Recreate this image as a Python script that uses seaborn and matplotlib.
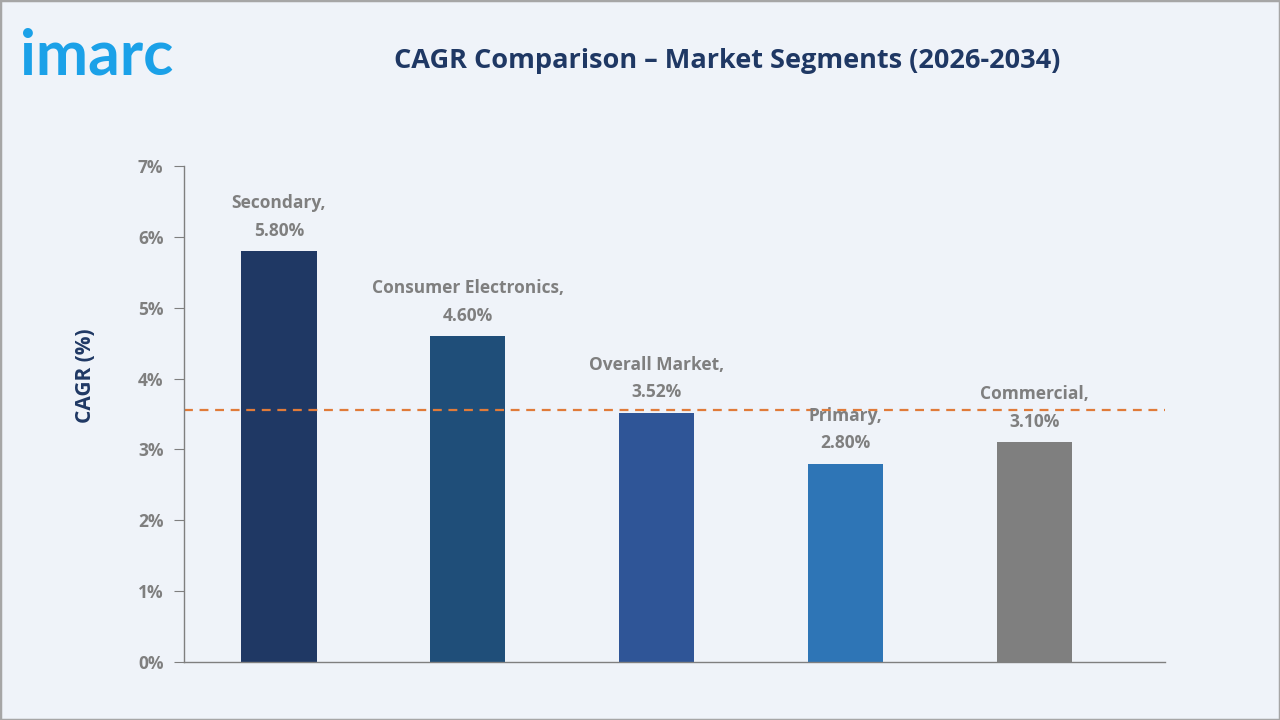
import matplotlib
matplotlib.use("Agg")
import matplotlib.pyplot as plt
import seaborn as sns
import pandas as pd
from matplotlib.ticker import FuncFormatter
from matplotlib.patches import Rectangle

# chart data
segments = ["Secondary", "Consumer Electronics", "Overall Market", "Primary", "Commercial"]
cagr = [5.80, 4.60, 3.52, 2.80, 3.10]
bar_colors = ["#1F3864", "#1F4E79", "#2F5597", "#2E75B6", "#7F7F7F"]
overall_line = 3.55
yticks = [0, 1, 2, 3, 4, 5, 6, 7]

sns.set_style("white")
plt.rcParams["font.family"] = ["Open Sans", "DejaVu Sans"]

bg = "#EFF3F9"
gray = "#7F7F7F"
navy = "#1F3864"

df = pd.DataFrame({"segment": segments, "cagr": cagr})

fig = plt.figure(figsize=(12.8, 7.2), dpi=100, facecolor=bg)
ax = fig.add_axes([0.144, 0.0806, 0.766, 0.6889])
ax.set_facecolor(bg)

sns.barplot(data=df, x="segment", y="cagr", hue="segment", palette=bar_colors,
            width=0.4, legend=False, ax=ax, saturation=1, linewidth=0)

ax.axhline(overall_line, color="#E07B39", linestyle=(0, (4, 3)), linewidth=1.6, zorder=1)

for i, (s, v) in enumerate(zip(segments, cagr)):
    ax.annotate(f"{s},\n{v:.2f}%", xy=(i, v), xytext=(0, 8), textcoords="offset points",
                ha="center", va="bottom", fontsize=12.5, color=gray, fontweight="bold",
                linespacing=1.7)

ax.set_ylim(0, 7)
ax.set_xlim(-0.5, 4.69)
ax.set_yticks(yticks)
ax.yaxis.set_major_formatter(FuncFormatter(lambda v, p: f"{v:.0f}%"))
ax.set_xticks([])
ax.set_xlabel("")
ax.set_ylabel("CAGR (%)", fontsize=15, fontweight="bold", color=navy)
ax.yaxis.set_label_coords(-0.09, 0.577)
ax.tick_params(axis="y", length=7, color=gray, labelsize=12.5, labelcolor=gray, pad=8, left=True)
for lab in ax.get_yticklabels():
    lab.set_fontweight("bold")
for sp in ["top", "right"]:
    ax.spines[sp].set_visible(False)
for sp in ["left", "bottom"]:
    ax.spines[sp].set_color(gray)
    ax.spines[sp].set_linewidth(1.0)

fig.text(0.568, 0.915, "CAGR Comparison – Market Segments (2026-2034)", ha="center", va="center",
         fontsize=19.5, fontweight="bold", color=navy)
fig.text(0.016, 0.896, "imarc", ha="left", va="baseline", fontsize=45, fontweight="bold",
         color="#1BA1E8", family=["Lato", "DejaVu Sans"])

fig.patches.append(Rectangle((0, 0), 1, 1, transform=fig.transFigure, fill=False,
                             edgecolor="#A6A6A6", linewidth=2.5))

fig.savefig("out.png", dpi=100, facecolor=bg)
